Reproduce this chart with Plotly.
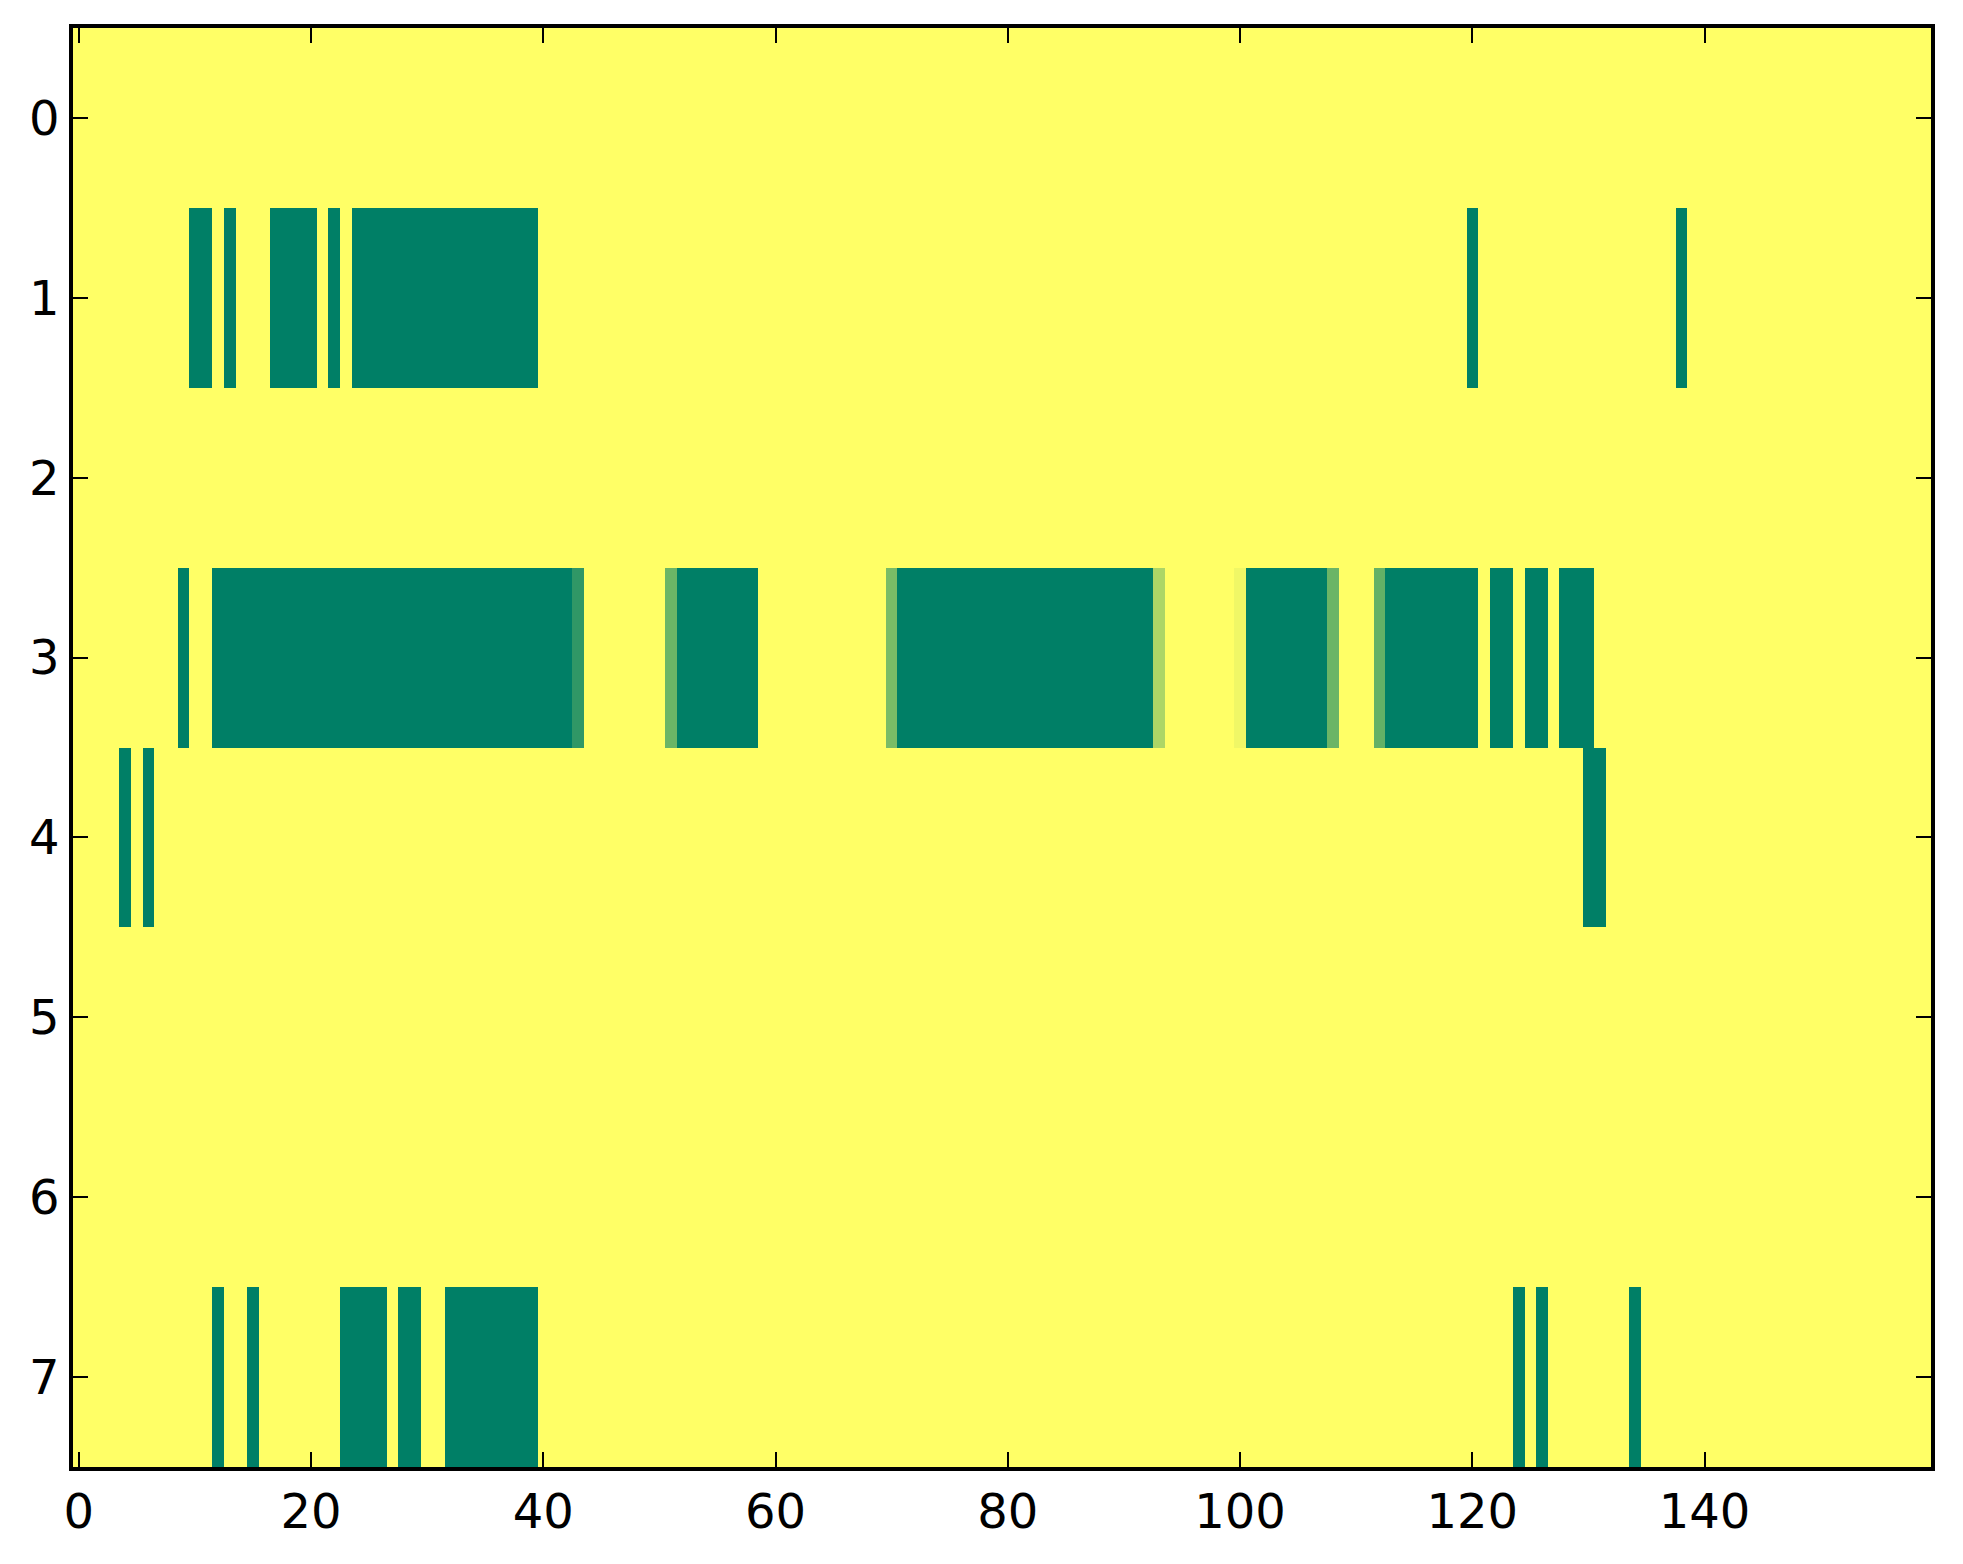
import numpy as np
import plotly.graph_objects as go

n_rows = 8
n_cols = 160

# cells at value 0 (dark green), as inclusive column spans per row
row_zero_spans = {
    1: [(10, 11), (13, 13), (17, 20), (22, 22), (24, 39), (120, 120), (138, 138)],
    3: [(9, 9), (12, 42), (52, 58), (71, 92), (101, 107), (113, 120),
        (122, 123), (125, 126), (128, 130)],
    4: [(4, 4), (6, 6), (130, 131)],
    7: [(12, 12), (15, 15), (23, 26), (28, 29), (32, 39), (124, 124),
        (126, 126), (134, 134)],
}

# single cells with in-between values (row 3 edges)
row3_partial_cols = [43, 51, 70, 93, 100, 108, 112]
row3_partial_vals = [0.19, 0.42, 0.48, 0.68, 0.94, 0.42, 0.39]

x_ticks = [0, 20, 40, 60, 80, 100, 120, 140]
y_ticks = [0, 1, 2, 3, 4, 5, 6, 7]

# build the grid (background = 1, yellow)
z = np.ones((n_rows, n_cols))
for r, spans in row_zero_spans.items():
    for a, b in spans:
        z[r, a:b + 1] = 0.0
for c, v in zip(row3_partial_cols, row3_partial_vals):
    z[3, c] = v

# matplotlib "summer" colormap (linear)
summer = [[0.0, "#007f66"], [1.0, "#ffff66"]]

fig = go.Figure(go.Heatmap(
    z=z,
    x=np.arange(n_cols),
    y=np.arange(n_rows),
    colorscale=summer,
    zmin=0, zmax=1,
    showscale=False,
    hoverinfo="skip",
))

axis_style = dict(
    showline=True, linecolor="black", linewidth=3.5, mirror="ticks",
    ticks="inside", ticklen=15, tickwidth=2, tickcolor="black",
    showgrid=False, zeroline=False,
    tickfont=dict(family="DejaVu Sans", size=48, color="black"),
)

fig.update_xaxes(range=[-0.5, n_cols - 0.5], tickvals=x_ticks, **axis_style)
fig.update_yaxes(range=[n_rows - 0.5, -0.5], tickvals=y_ticks, **axis_style)

fig.update_layout(
    width=1963, height=1564,
    margin=dict(l=65, r=40, t=20, b=105),
    paper_bgcolor="white", plot_bgcolor="white",
)

fig.write_html("out.html")
